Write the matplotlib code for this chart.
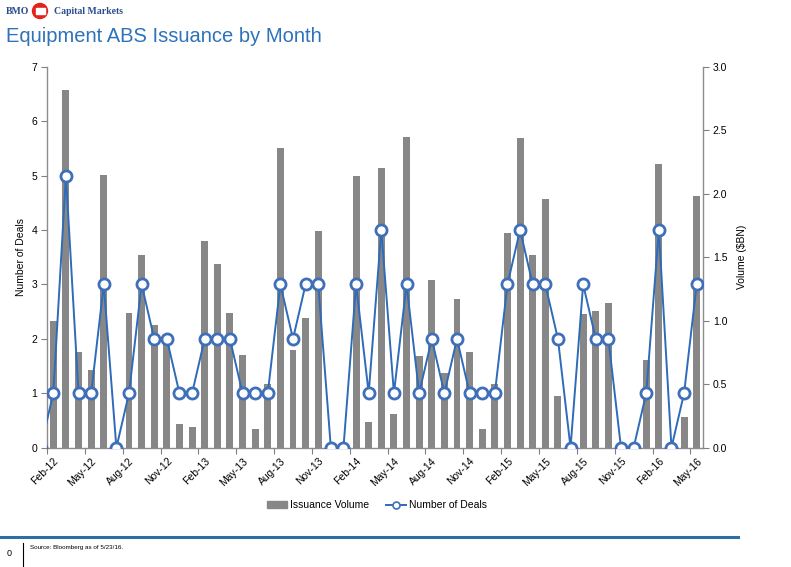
import matplotlib
matplotlib.use("Agg")
import matplotlib.pyplot as plt
from matplotlib.patches import Circle, Rectangle
from matplotlib.lines import Line2D
import numpy as np

plt.rcParams['font.family'] = ['Liberation Sans', 'DejaVu Sans']

# ---- data ----
months = ["Jan-12",
          "Feb-12", "Mar-12", "Apr-12", "May-12", "Jun-12", "Jul-12", "Aug-12", "Sep-12", "Oct-12", "Nov-12", "Dec-12",
          "Jan-13", "Feb-13", "Mar-13", "Apr-13", "May-13", "Jun-13", "Jul-13", "Aug-13", "Sep-13", "Oct-13", "Nov-13", "Dec-13",
          "Jan-14", "Feb-14", "Mar-14", "Apr-14", "May-14", "Jun-14", "Jul-14", "Aug-14", "Sep-14", "Oct-14", "Nov-14", "Dec-14",
          "Jan-15", "Feb-15", "Mar-15", "Apr-15", "May-15", "Jun-15", "Jul-15", "Aug-15", "Sep-15", "Oct-15", "Nov-15", "Dec-15",
          "Jan-16", "Feb-16", "Mar-16", "Apr-16", "May-16"]

issuance_volume = [0.0,
                   1.00, 2.82, 0.75, 0.61, 2.15, 0.0, 1.06, 1.52, 0.97, 0.82, 0.19,
                   0.165, 1.63, 1.45, 1.06, 0.73, 0.15, 0.50, 2.36, 0.77, 1.02, 1.71, 0.0,
                   0.0, 2.14, 0.20, 2.20, 0.265, 2.45, 0.72, 1.32, 0.585, 1.17, 0.75, 0.15,
                   0.50, 1.69, 2.44, 1.52, 1.96, 0.41, 0.0, 1.05, 1.08, 1.14, 0.0, 0.0,
                   0.69, 2.23, 0.0, 0.24, 1.98]

number_of_deals = [0,
                   1, 5, 1, 1, 3, 0, 1, 3, 2, 2, 1,
                   1, 2, 2, 2, 1, 1, 1, 3, 2, 3, 3, 0,
                   0, 3, 1, 4, 1, 3, 1, 2, 1, 2, 1, 1,
                   1, 3, 4, 3, 3, 2, 0, 3, 2, 2, 0, 0,
                   1, 4, 0, 1, 3]

left_ticks = [0, 1, 2, 3, 4, 5, 6, 7]
right_ticks = [0.0, 0.5, 1.0, 1.5, 2.0, 2.5, 3.0]

# ---- figure ----
W, H = 791, 567
fig = plt.figure(figsize=(W / 100, H / 100), dpi=100)
ax = fig.add_axes([47 / W, 1 - 447.7 / H, (703 - 47) / W, (447.7 - 66.7) / H])
ax2 = ax.twinx()

x = np.arange(len(months))
bar_color = '#878787'
line_color = '#2E6BB8'

ax2.bar(x, issuance_volume, width=0.55, color=bar_color, zorder=2)
ax.plot(x, number_of_deals, color=line_color, lw=1.4, marker='o', markersize=8,
        markerfacecolor='white', markeredgecolor='#3F6FB8', markeredgewidth=2.0, zorder=3,
        clip_on=True)

ax.set_zorder(ax2.get_zorder() + 1)
ax.patch.set_visible(False)

ax.set_xlim(0.5, len(months) - 0.5)
ax.set_ylim(0, 7)
ax2.set_ylim(0, 3.0)
ax.set_yticks(left_ticks)
ax.set_yticklabels([str(t) for t in left_ticks])
ax2.set_yticks(right_ticks)
ax2.set_yticklabels([f"{t:.1f}" for t in right_ticks])

# x ticks: marks at boundaries, labels at every third month centre
lab_idx = list(range(1, len(months), 3))
ax.set_xticks([i - 0.5 for i in lab_idx])
ax.set_xticklabels([])
ax.set_xticks(lab_idx, minor=True)
ax.set_xticklabels([months[i] for i in lab_idx], minor=True, rotation=45,
                   ha='right', va='top', rotation_mode='anchor', fontsize=7.5)
ax.tick_params(axis='x', which='minor', length=0, pad=6)
ax.tick_params(axis='x', which='major', length=4, color='#808080', direction='out')
ax.tick_params(axis='y', length=4, color='#808080', labelsize=7.5, pad=3)
ax2.tick_params(axis='y', length=4, color='#808080', labelsize=7.5, pad=3)
ax2.tick_params(axis='x', length=0)

for a in (ax, ax2):
    a.spines['top'].set_visible(False)
    for s in ('left', 'right', 'bottom'):
        a.spines[s].set_color('#8C8C8C')
        a.spines[s].set_linewidth(1.0)
ax.spines['right'].set_visible(False)
ax2.spines['left'].set_visible(False)
ax2.spines['bottom'].set_visible(False)

ax.set_ylabel("Number of Deals", fontsize=7.5, labelpad=4)
ax2.set_ylabel("Volume ($BN)", fontsize=7.5, labelpad=7)

# legend
handles = [Rectangle((0, 0), 1, 1, color=bar_color),
           Line2D([0], [0], color=line_color, lw=1.4, marker='o', markersize=5,
                  markerfacecolor='white', markeredgecolor='#3F6FB8', markeredgewidth=1.2)]
fig.legend(handles, ["Issuance Volume", "Number of Deals"], loc='center',
           bbox_to_anchor=(377 / W, 1 - 505 / H), ncol=2, frameon=False, fontsize=7.5,
           handlelength=1.9, handleheight=0.6, columnspacing=1.6, handletextpad=0.3)

# header
navy = '#2B4C8C'
fig.text(6 / W, 1 - 11 / H, "BMO", fontsize=7, fontweight='bold', color=navy,
         family='Liberation Serif', va='center', ha='left')
fig.add_artist(Circle((40 / 100, (H - 11) / 100), 0.075, transform=fig.dpi_scale_trans,
                      color='#E2231A'))
fig.add_artist(Rectangle((35.5 / 100, (H - 14) / 100), 0.09, 0.06, transform=fig.dpi_scale_trans,
                         color='white'))
fig.text(54 / W, 1 - 11 / H, "Capital Markets", fontsize=7, fontweight='bold', color=navy,
         family='Liberation Serif', va='center', ha='left')
fig.text(6 / W, 1 - 36 / H, "Equipment ABS Issuance by Month", fontsize=14.5,
         color='#2E72B9', va='center', ha='left')

# footer
fig.add_artist(Line2D([0, 738 / W], [1 - 537 / H, 1 - 537 / H], transform=fig.transFigure,
                      color='#2F6E9E', lw=2.2))
fig.add_artist(Line2D([23 / W, 23 / W], [1 - 543 / H, 1 - 566 / H], transform=fig.transFigure,
                      color='black', lw=0.8))
fig.text(7 / W, 1 - 553 / H, "0", fontsize=6.5, va='center', ha='left')
fig.text(30 / W, 1 - 548 / H, "Source: Bloomberg as of 5/23/16.", fontsize=4.5,
         va='center', ha='left')

fig.savefig("out.png", dpi=100)
